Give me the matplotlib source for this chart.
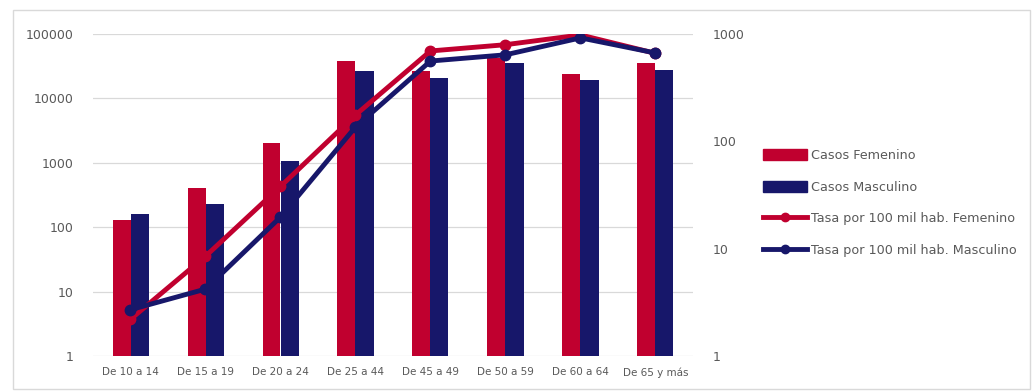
import matplotlib.pyplot as plt
import numpy as np
from matplotlib.patches import Rectangle
from matplotlib.lines import Line2D

# grupos de edad
grupos = ["De 10 a 14", "De 15 a 19", "De 20 a 24", "De 25 a 44",
          "De 45 a 49", "De 50 a 59", "De 60 a 64", "De 65 y más"]

# casos (eje izquierdo, log)
casos_fem = [128, 400, 2000, 37500, 27000, 41700, 23600, 35000]
casos_mas = [160, 228, 1050, 27000, 20400, 36000, 19600, 28000]

# tasa por 100 mil hab. (eje derecho, log)
tasa_fem = [2.2, 8.5, 38, 176, 695, 795, 980, 660]
tasa_mas = [2.7, 4.2, 19.7, 136, 560, 640, 920, 665]

rojo = "#C0002F"
azul = "#17176A"
gris = "#595959"

fig = plt.figure(figsize=(10.34, 3.91), dpi=100)
fig.patches.append(Rectangle((13 / 1034, 2 / 391), 1017 / 1034, 379 / 391,
                             transform=fig.transFigure, fill=False,
                             edgecolor="#D9D9D9", lw=1))

ax = fig.add_axes([93 / 1034, 35 / 391, 600 / 1034, 322 / 391])
x = np.arange(len(grupos))
w = 0.24
ax.bar(x - w / 2, casos_fem, w, color=rojo, zorder=2, label="Casos Femenino")
ax.bar(x + w / 2, casos_mas, w, color=azul, zorder=2, label="Casos Masculino")
ax.set_yscale("log")
ax.set_ylim(1, 100000)
ax.set_xlim(-0.5, len(grupos) - 0.5)
ax.set_yticks([1, 10, 100, 1000, 10000, 100000])
ax.set_yticklabels(["1", "10", "100", "1000", "10000", "100000"])
ax.yaxis.set_minor_locator(plt.NullLocator())
ax.set_xticks(x)
ax.set_xticklabels(grupos, fontsize=7.5, color=gris)
ax.tick_params(axis="y", length=0, pad=14, labelsize=9, labelcolor=gris)
ax.tick_params(axis="x", length=0, pad=8)
ax.grid(axis="y", color="#D9D9D9", lw=0.9, zorder=0)
for s in ax.spines.values():
    s.set_visible(False)

ax2 = ax.twinx()
ax2.plot(x, tasa_fem, color=rojo, lw=3.5, marker="o", ms=7.5, zorder=3)
ax2.plot(x, tasa_mas, color=azul, lw=3.5, marker="o", ms=7.5, zorder=4)
ax2.set_yscale("log")
ax2.set_ylim(1, 1000)
ax2.set_yticks([1, 10, 100, 1000])
ax2.set_yticklabels(["1", "10", "100", "1000"])
ax2.yaxis.set_minor_locator(plt.NullLocator())
ax2.tick_params(axis="y", length=0, pad=14, labelsize=9, labelcolor=gris)
for s in ax2.spines.values():
    s.set_visible(False)

handles = [
    Rectangle((0, 0), 1, 1, color=rojo),
    Rectangle((0, 0), 1, 1, color=azul),
    Line2D([], [], color=rojo, lw=3.5, marker="o", ms=6),
    Line2D([], [], color=azul, lw=3.5, marker="o", ms=6),
]
labels = ["Casos Femenino", "Casos Masculino",
          "Tasa por 100 mil hab. Femenino", "Tasa por 100 mil hab. Masculino"]
leg = fig.legend(handles, labels, loc="center left",
                 bbox_to_anchor=(751 / 1034, 1 - 203 / 391), frameon=False,
                 fontsize=9.2, handlelength=3.5, handleheight=0.95,
                 handletextpad=0.3, labelspacing=1.45, labelcolor=gris)

fig.savefig("out.png", dpi=100)
